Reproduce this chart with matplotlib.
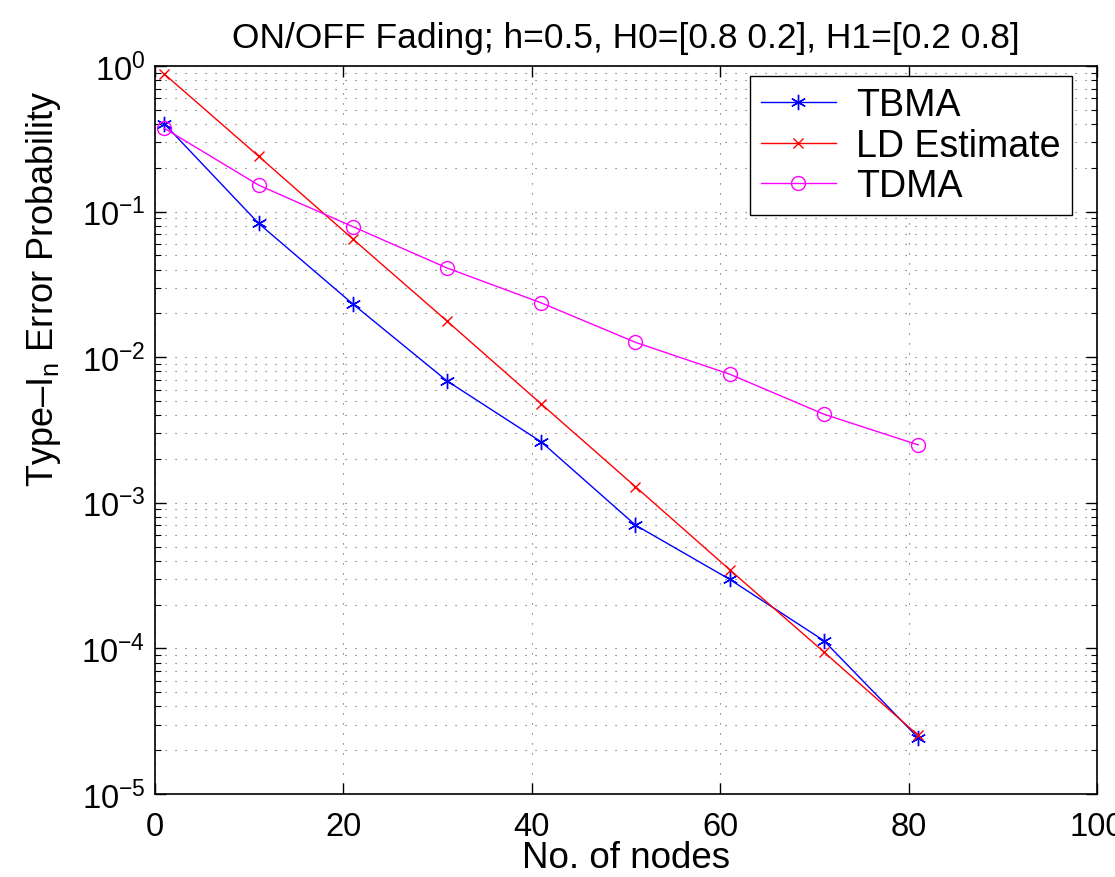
import matplotlib

matplotlib.use("Agg")
import matplotlib.pyplot as plt  # noqa: E402
from matplotlib.ticker import LogLocator, NullFormatter  # noqa: E402

plt.rcParams["font.family"] = ["Liberation Sans", "DejaVu Sans"]
plt.rcParams["mathtext.fontset"] = "custom"
plt.rcParams["mathtext.rm"] = "Liberation Sans"

# data
nodes = [1, 11, 21, 31, 41, 51, 61, 71, 81]
tbma = [0.40, 0.083, 0.0232, 0.00687, 0.00262, 0.000703, 0.000298, 0.000113, 2.43e-5]
ld_estimate = [0.88, 0.24, 0.0648, 0.0177, 0.00477, 0.00129, 0.000347, 9.45e-5, 2.53e-5]
tdma = [0.373, 0.152, 0.0788, 0.041, 0.0236, 0.01265, 0.00764, 0.00406, 0.0025]

fig = plt.figure(figsize=(11.15, 8.78), dpi=100)
ax = fig.add_axes([0.139, 0.0945, 0.845, 0.8292])

ax.semilogy(nodes, tbma, color="blue", marker=(6, 2, 0), ms=11, mew=1.0, lw=1.0,
            label="TBMA")
ax.semilogy(nodes, ld_estimate, color="red", marker="x", ms=7, mew=1.0, lw=1.0,
            label="LD Estimate")
ax.semilogy(nodes, tdma, color="magenta", marker="o", ms=10, mfc="none", mew=1.0, lw=1.0,
            label="TDMA")

ax.set_xlim(0, 100)
ax.set_ylim(1e-5, 1)
ax.set_xticks([0, 20, 40, 60, 80, 100])
ax.yaxis.set_major_locator(LogLocator(base=10, numticks=10))
ax.yaxis.set_minor_locator(LogLocator(base=10, subs=range(2, 10), numticks=20))
ax.yaxis.set_minor_formatter(NullFormatter())

dots = (0, (1, 8))
ax.grid(True, which="major", linestyle=dots, color="black", lw=0.8, alpha=0.65)
ax.grid(True, which="minor", axis="y", linestyle=dots, color="black", lw=0.8, alpha=0.65)

ax.tick_params(which="both", direction="in", top=True, right=True, labelsize=23.5)
ax.tick_params(which="major", length=8, width=1)
ax.tick_params(which="minor", length=4, width=0.8)
ax.tick_params(axis="x", which="major", pad=12)
ax.tick_params(axis="y", which="major", pad=7)
for s in ax.spines.values():
    s.set_linewidth(1.2)

ax.set_xlabel("No. of nodes", fontsize=26.5, labelpad=-1)
ax.set_ylabel("Type–I$_\\mathrm{n}$ Error Probability", fontsize=26)
ax.yaxis.set_label_coords(-0.098, 0.695)
ax.set_title("ON/OFF Fading; h=0.5, H0=[0.8 0.2], H1=[0.2 0.8]", fontsize=25.5, pad=14)

leg = ax.legend(loc="upper right", bbox_to_anchor=(0.9735, 0.9863), fontsize=27,
                fancybox=False, framealpha=1, edgecolor="black", borderaxespad=0,
                handlelength=2.0, handletextpad=0.55, labelspacing=0.12, borderpad=0.3)
leg.get_frame().set_linewidth(1.0)

fig.savefig("out.png", dpi=100)
